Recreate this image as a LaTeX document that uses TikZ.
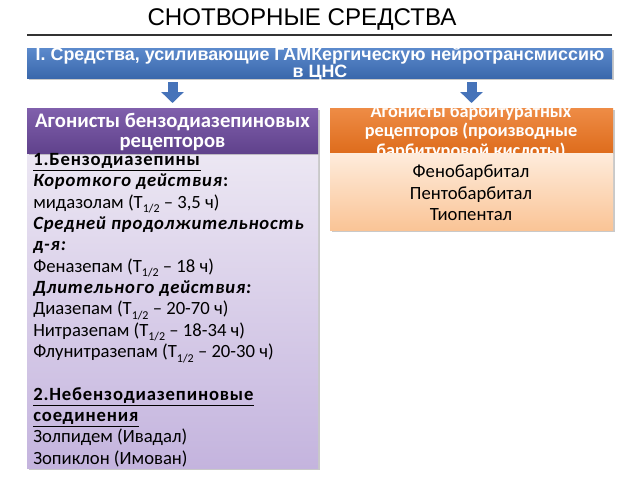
\documentclass[tikz,border=0pt]{standalone}
\usepackage{fontspec}
\setmainfont{Carlito}
\newfontfamily\arialf{Liberation Sans}
\newfontfamily\bodyfont{Carlito}[BoldFeatures={LetterSpace=4.5},BoldItalicFeatures={LetterSpace=4.5}]
\usetikzlibrary{arrows.meta,shadows}
\definecolor{barTop}{RGB}{92,138,204}
\definecolor{barBot}{RGB}{58,104,172}
\definecolor{purTop}{RGB}{128,96,172}
\definecolor{purBot}{RGB}{96,66,140}
\definecolor{lavTop}{RGB}{236,231,243}
\definecolor{lavBot}{RGB}{196,180,222}
\definecolor{orTop}{RGB}{238,140,70}
\definecolor{orBot}{RGB}{222,108,28}
\definecolor{peTop}{RGB}{254,236,220}
\definecolor{peBot}{RGB}{250,196,150}
\definecolor{arrowBlue}{RGB}{70,115,185}
\newcommand{\halfsub}{\raisebox{-0.55ex}{\fontsize{9}{9}\selectfont 1/2}}
\tikzset{
  box/.style={draw=none, anchor=north west, inner sep=0pt, outer sep=0pt},
  shade1/.style={drop shadow={shadow xshift=1.2pt, shadow yshift=-1.8pt, opacity=0.35, fill=black!60}},
  blockarrow/.style={color=arrowBlue, line width=7.5pt, -{Triangle[width=16.5pt,length=8.25pt]}},
  hdr/.style={text=white, font=\bfseries\fontsize{15.5}{15}\selectfont, align=center},
}
\begin{document}
\begin{tikzpicture}[x=0.75pt,y=-0.75pt]
\useasboundingbox (0,0) rectangle (640,480);
\fill[white] (0,0) rectangle (640,480);
% title
\node[font=\arialf\fontsize{18.1}{19}\selectfont] (title) at (302,19) {СНОТВОРНЫЕ СРЕДСТВА};
\coordinate (ruleL) at (27,35);
\coordinate (ruleR) at (612,35);
\draw[line width=0.9pt, black!80] (ruleL) -- (ruleR);
% blue bar
\node[box, shade1, top color=barTop, bottom color=barBot, minimum width=438.75pt, minimum height=22.5pt] (bar) at (27,48) {};
\node[text=white, font=\arialf\bfseries\fontsize{13.4}{12.75}\selectfont, align=center, inner sep=0pt] (bartext) at (320,64)
  {I. Средства, усиливающие ГАМКергическую нейротрансмиссию\\в ЦНС};
% left header and body
\node[box, shade1, top color=lavTop, bottom color=lavBot, minimum width=218.25pt, minimum height=236.25pt] (lbody) at (27,153) {};
\node[box, shade1, top color=purTop, bottom color=purBot, minimum width=218.25pt, minimum height=33.75pt] (lhead) at (27,108) {};
\node[hdr] (lheadtext) at ([yshift=-1pt]lhead.center) {Агонисты бензодиазепиновых\\рецепторов};
% right header and body
\node[box, shade1, top color=orTop, bottom color=orBot, minimum width=212.25pt, minimum height=33.75pt] (rhead) at (330,108) {};
\node[text=white, font=\bfseries\fontsize{13.7}{14.6}\selectfont, align=center] (rheadtext) at (471,132) {Агонисты барбитуратных\\рецепторов (производные\\барбитуровой кислоты)};
\node[box, shade1, top color=peTop, bottom color=peBot, minimum width=212.25pt, minimum height=57.75pt] (rbody) at (330,153) {};
\node[font=\fontsize{14}{16}\selectfont, align=center] (rbodytext) at (471,193) {Фенобарбитал\\Пентобарбитал\\Тиопентал};
% left body text
\node[anchor=north west, inner sep=0pt, font=\bodyfont\fontsize{14}{16}\selectfont, align=left] (lbodytext) at (33,153) {%
\underline{\textbf{1.Бензодиазепины}}\\
\textbf{\textit{Короткого действия}:}\\
мидазолам (T\halfsub{} – 3,5 ч)\\
\textbf{\textit{Средней продолжительность}}\\
\textbf{\textit{д-я:}}\\
Феназепам (T\halfsub{} – 18 ч)\\
\textbf{\textit{Длительного действия:}}\\
Диазепам (T\halfsub{} – 20-70 ч)\\
Нитразепам (T\halfsub{} – 18-34 ч)\\
Флунитразепам (T\halfsub{} – 20-30 ч)\\[16pt]
\underline{\textbf{2.Небензодиазепиновые}}\\
\underline{\textbf{соединения}}\\
Золпидем (Ивадал)\\
Зопиклон (Имован)};
% arrows
\draw[blockarrow, shorten <=3pt, shorten >=3.75pt] (bar.south -| lhead.north) -- (lhead.north);
\draw[blockarrow, shorten <=3pt, shorten >=3.75pt] (bar.south -| rhead.north) -- (rhead.north);
\end{tikzpicture}
\end{document}
